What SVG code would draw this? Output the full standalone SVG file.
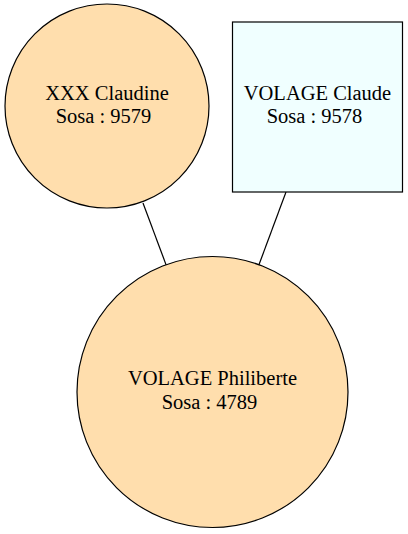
<svg xmlns="http://www.w3.org/2000/svg" width="408" height="534" viewBox="0 0 408 534">
<style>
.person{fill:#ffdead;stroke:#000;stroke-width:1.2}
.male{fill:#f0ffff;stroke:#000;stroke-width:1.2}
.edge{stroke:#000;stroke-width:1.2;fill:none}
text{font-family:'Liberation Serif','Times New Roman',serif;font-size:20.5px;fill:#000;text-anchor:middle}
</style>
<rect width="408" height="534" fill="#fff"/>
<g id="connectors">
<line class="edge" x1="143" y1="203" x2="166.5" y2="266"/>
<line class="edge" x1="286" y1="192" x2="258.5" y2="266"/>
</g>
<g id="node-claudine">
<circle class="person" cx="107" cy="106" r="102"/>
<text x="107" y="100">XXX Claudine</text>
<text x="103.5" y="123">Sosa : 9579</text>
</g>
<g id="node-claude">
<rect class="male" x="232.5" y="22" width="170" height="170"/>
<text x="317.5" y="100">VOLAGE Claude</text>
<text x="314.5" y="123">Sosa : 9578</text>
</g>
<g id="node-philiberte">
<circle class="person" cx="212.5" cy="392" r="135.5"/>
<text x="212.5" y="385">VOLAGE Philiberte</text>
<text x="209.5" y="409">Sosa : 4789</text>
</g>
</svg>
